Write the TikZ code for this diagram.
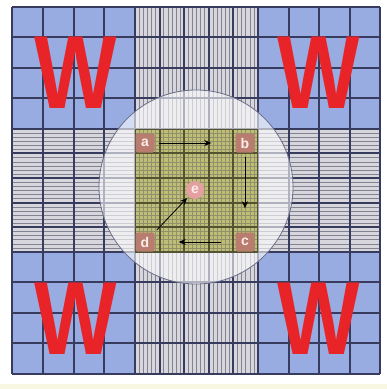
\documentclass[tikz,border=0pt]{standalone}
\usepackage{fontspec}
\usepackage{graphicx}
\newfontfamily\wfont{Liberation Sans}
\usetikzlibrary{arrows.meta}
\definecolor{quadblue}{RGB}{152,172,226}
\definecolor{gridgray}{RGB}{214,214,220}
\definecolor{olive}{RGB}{190,190,118}
\definecolor{coarsecol}{RGB}{55,60,95}
\definecolor{finecol}{RGB}{130,130,145}
\definecolor{olivedark}{RGB}{120,118,70}
\definecolor{wred}{RGB}{232,36,40}
\definecolor{labfill}{RGB}{185,125,112}
\definecolor{labtext}{RGB}{252,236,232}
\definecolor{epink}{RGB}{228,160,160}
\definecolor{paleyellow}{RGB}{248,248,226}
\newcommand\drawgridlines[2]{%
  \foreach \i in {1,...,29} {
    \draw[finegrid,draw=#1] ({135+\i*123/30},7) -- ({135+\i*123/30},374);
    \draw[finegrid,draw=#1] (12,{129+\i*123/30}) -- (380,{129+\i*123/30});
  }
  \foreach \v in {43,74,104,160,184,209,233,289,319,350} {
    \draw[coarsegrid,draw=#2] (\v,7) -- (\v,374);
  }
  \foreach \h in {37,68,98,153,178,203,227,282,313,343} {
    \draw[coarsegrid,draw=#2] (12,\h) -- (380,\h);
  }
  \foreach \v in {12,135,258,380} {
    \draw[majorgrid,draw=#2] (\v,7) -- (\v,374);
  }
  \foreach \h in {7,129,252,374} {
    \draw[majorgrid,draw=#2] (12,\h) -- (380,\h);
  }
}
\begin{document}
\begin{tikzpicture}[x=1pt,y=-1pt,
  finegrid/.style={line width=0.55pt},
  coarsegrid/.style={line width=1.1pt},
  majorgrid/.style={line width=1.6pt},
  wletter/.style={inner sep=0pt,text=wred,font=\wfont\bfseries\fontsize{104}{104}\selectfont},
  lab/.style={rectangle,rounded corners=2pt,fill=labfill,text=labtext,minimum size=19pt,inner sep=0pt,font=\wfont\bfseries\fontsize{14}{14}\selectfont},
  elab/.style={circle,fill=epink,text=labtext,minimum size=18pt,inner sep=0pt,font=\wfont\bfseries\fontsize{14}{14}\selectfont},
  arr/.style={draw=black,line width=0.8pt,-{Stealth[length=7pt,width=6pt]}}
]
\useasboundingbox (0,0) rectangle (387,389);
\fill[white] (0,0) rectangle (387,389);
\fill[paleyellow] (0,384) rectangle (387,389);
% region fills
\fill[gridgray] (12,7) rectangle (380,374);
\fill[quadblue] (12,7) rectangle (135,129);
\fill[quadblue] (258,7) rectangle (380,129);
\fill[quadblue] (12,252) rectangle (135,374);
\fill[quadblue] (258,252) rectangle (380,374);
\drawgridlines{finecol}{coarsecol}
% circle
\fill[white,opacity=0.6] (196,187) circle (97);
\begin{scope}
  \clip (135,129) rectangle (258,252);
  \fill[olive] (135,129) rectangle (258,252);
  \drawgridlines{olivedark!80}{olivedark!70!black}
\end{scope}
\draw[draw=coarsecol!75,line width=0.8pt] (196,187) circle (97);
% W letters
\node[wletter] (w1) at (76,73) {\scalebox{0.84}[1]{W}};
\node[wletter] (w2) at (319,73) {\scalebox{0.84}[1]{W}};
\node[wletter] (w3) at (76,319) {\scalebox{0.84}[1]{W}};
\node[wletter] (w4) at (319,319) {\scalebox{0.84}[1]{W}};
% labels
\node[lab] (a) at (145,143) {a};
\node[lab] (b) at (245,143) {b};
\node[lab] (c) at (245,242) {c};
\node[lab] (d) at (145,242) {d};
\node[elab] (e) at (195,190) {e};
% arrows
\draw[arr,shorten <=4pt,shorten >=24pt] (a) -- (b);
\draw[arr,shorten <=4pt,shorten >=24pt] (b) -- (c);
\draw[arr,shorten <=14pt,shorten >=24pt] (c) -- (d);
\draw[arr,shorten <=3pt,shorten >=2pt] (d.north east) -- (e.south west);
\end{tikzpicture}
\end{document}
